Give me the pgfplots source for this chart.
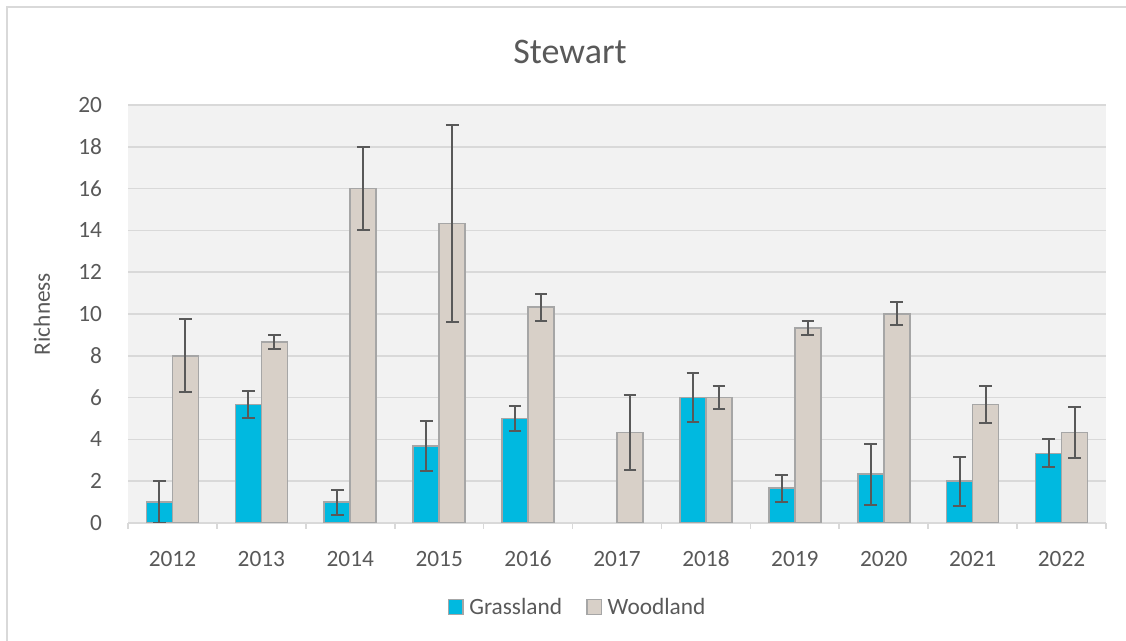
\documentclass[border=0pt]{standalone}
\usepackage{fontspec}
\setmainfont{Carlito}
\usepackage{pgfplots}
\usepackage{pgfplotstable}
\pgfplotsset{compat=1.18}

\definecolor{grass}{RGB}{0,185,224}
\definecolor{wood}{RGB}{216,208,200}
\definecolor{barline}{RGB}{166,166,166}
\definecolor{errc}{RGB}{89,89,89}
\definecolor{gridc}{RGB}{217,217,217}
\definecolor{plotbg}{RGB}{242,242,242}
\definecolor{txt}{RGB}{89,89,89}

% year index, mean, error
\pgfplotstableread{
x  g    ge
0  1.00 1.00
1  5.67 0.65
2  1.00 0.60
3  3.67 1.20
4  5.00 0.59
6  6.00 1.17
7  1.67 0.65
8  2.33 1.45
9  2.00 1.17
10 3.33 0.67
}\grassdata

\pgfplotstableread{
x  w     we
0  8.00  1.74
1  8.67  0.33
2  16.00 2.00
3  14.33 4.70
4  10.33 0.65
5  4.33  1.79
6  6.00  0.55
7  9.33  0.35
8  10.00 0.55
9  5.67  0.89
10 4.33  1.20
}\wooddata

\begin{document}
\begin{tikzpicture}
\useasboundingbox (0pt,0pt) rectangle (844.5pt,480.75pt);
\draw[gridc,line width=1.2pt] (5.25pt,0pt) -- (5.25pt,475.5pt) -- (844.5pt,475.5pt);
\node[txt,font=\fontsize{27}{32}\selectfont] at (427.5pt,441.75pt) {Stewart};
\begin{axis}[
    at={(96pt,88.5pt)}, anchor=south west,
    scale only axis,
    width=733.5pt, height=313.5pt,
    ybar=0pt, bar width=19.5pt,
    xmin=-0.5, xmax=10.5,
    ymin=0, ymax=20,
    axis background/.style={fill=plotbg},
    axis x line*=bottom, axis y line*=left,
    x axis line style={gridc,line width=1.2pt,-},
    y axis line style={draw=none},
    xtick={0,...,10},
    xticklabels={2012,2013,2014,2015,2016,2017,2018,2019,2020,2021,2022},
    major x tick style={draw=none},
    minor xtick={-0.5,0.5,...,10.5},
    minor x tick style={gridc,line width=1.2pt},
    minor tick length=4.5pt,
    tick align=outside,
    ytick={0,2,...,20},
    major y tick style={draw=none},
    ymajorgrids,
    grid style={gridc,line width=1.2pt},
    tick label style={txt,font=\fontsize{17.5}{21}\selectfont},
    /pgf/number format/assume math mode=true,
    xticklabel style={anchor=center,yshift=-22.5pt},
    yticklabel style={anchor=east,inner sep=0pt,xshift=-15pt},
    ylabel={Richness},
    ylabel style={txt,font=\fontsize{17.5}{21}\selectfont,at={(axis description cs:-0.088,0.5)},anchor=center},
    legend style={at={(axis description cs:0.46,-0.201)},anchor=center,
        draw=none,fill=none,legend columns=2,
        font=\fontsize{17.5}{21}\selectfont,text=txt,
        /tikz/every even column/.append style={column sep=16pt}},
    legend image code/.code={\draw[#1,line width=1.2pt] (0pt,-5.5pt) rectangle (11pt,5.5pt);
        \path (13pt,0pt);},
    error bars/error bar style={errc,line width=1.5pt},
    error bars/error mark options={errc,rotate=90,mark size=4.75pt,line width=1.5pt},
]
\addplot[fill=grass,draw=barline,line width=1.2pt,
    error bars/.cd,y dir=both,y explicit]
    table[x=x,y=g,y error=ge]{\grassdata};
\addplot[fill=wood,draw=barline,line width=1.2pt,
    error bars/.cd,y dir=both,y explicit]
    table[x=x,y=w,y error=we]{\wooddata};
\legend{Grassland,Woodland}
\end{axis}
\end{tikzpicture}
\end{document}
